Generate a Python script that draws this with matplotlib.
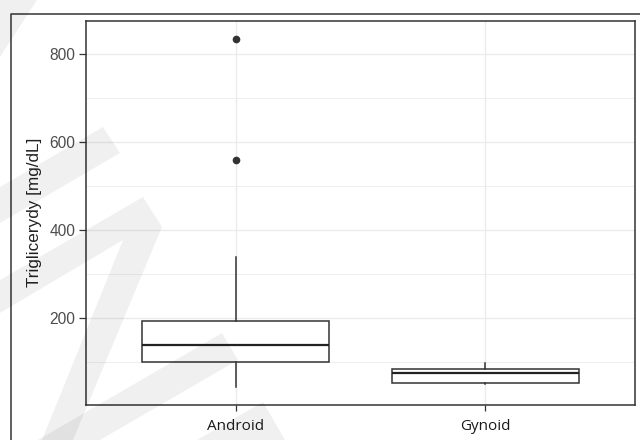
import matplotlib.pyplot as plt
from matplotlib.patches import Polygon
from matplotlib.lines import Line2D

# box statistics (mg/dL)
groups = ['Android', 'Gynoid']
whislo = [44, 51]
q1 = [100, 54]
med = [140, 77]
q3 = [194, 84]
whishi = [340, 98]
fliers = [[558, 834], []]

ylabel = 'Triglicerydy [mg/dL]'
yticks = [200, 400, 600, 800]
yminor = [100, 300, 500, 700]

W, H = 640, 440

# light diagonal watermark, pixel corners
marks = [
    [(0, 0), (37, 0), (0, 57)],
    [(103, 127), (120, 153), (0, 223), (0, 187)],
    [(143, 197), (162, 227), (73, 440), (42, 440), (123, 240), (0, 313), (0, 280)],
    [(222, 333), (238, 360), (100, 440), (38, 440)],
    [(263, 402), (285, 440), (197, 440)],
]


def main():
    plt.rcParams['font.family'] = ['Liberation Sans', 'DejaVu Sans']
    fig = plt.figure(figsize=(W / 100, H / 100), dpi=100)
    ax = fig.add_axes([86 / W, 1 - 404.5 / H, (635 - 86) / W, (404.5 - 21) / H])

    stats = []
    for i, g in enumerate(groups):
        stats.append(dict(label=g, whislo=whislo[i], q1=q1[i], med=med[i],
                          q3=q3[i], whishi=whishi[i], fliers=fliers[i]))

    ax.bxp(stats, positions=[1, 2], widths=0.75, showcaps=False,
           patch_artist=True,
           boxprops=dict(facecolor='white', edgecolor='#333333', linewidth=1.1),
           medianprops=dict(color='#222222', linewidth=1.6),
           whiskerprops=dict(color='#333333', linewidth=1.1),
           flierprops=dict(marker='o', markersize=4.5, markerfacecolor='#333333',
                           markeredgecolor='#333333'),
           zorder=3)

    ax.set_xlim(0.4, 2.6)
    ax.set_ylim(4.5, 874)
    ax.set_yticks(yticks)
    ax.set_yticks(yminor, minor=True)
    ax.set_xticks([1, 2])
    ax.set_xticklabels(groups, fontfamily='Open Sans', fontsize=11, color='#1a1a1a')
    ax.grid(True, which='major', color='#ebebeb', linewidth=1.0, zorder=0)
    ax.grid(True, which='minor', axis='y', color='#ebebeb', linewidth=0.6, zorder=0)
    ax.set_axisbelow(True)
    ax.tick_params(axis='y', which='minor', length=0)
    ax.tick_params(axis='y', which='major', length=5, width=0.9, color='#333333',
                   labelsize=11.2, labelcolor='#4d4d4d', pad=2.7)
    ax.tick_params(axis='x', which='major', length=4.5, width=0.9, color='#333333',
                   pad=6, labelcolor='#1a1a1a')
    for s in ax.spines.values():
        s.set_color('#333333')
        s.set_linewidth(1.1)
    ax.set_ylabel(ylabel, fontsize=12.3, color='#222222')
    ax.yaxis.set_label_coords((42 - 86) / 549, 0.5)

    # outer frame of the figure
    fig.add_artist(Line2D([11 / W, 11 / W, 1], [0, 1 - 14 / H, 1 - 14 / H],
                          transform=fig.transFigure, color='#444444', linewidth=1.2))

    for m in marks:
        pts = [(x / W, 1 - y / H) for x, y in m]
        fig.add_artist(Polygon(pts, closed=True, transform=fig.transFigure,
                               facecolor='#000000', alpha=0.06, edgecolor='none',
                               zorder=10))

    fig.savefig('out.png', dpi=100)


if __name__ == '__main__':
    main()
